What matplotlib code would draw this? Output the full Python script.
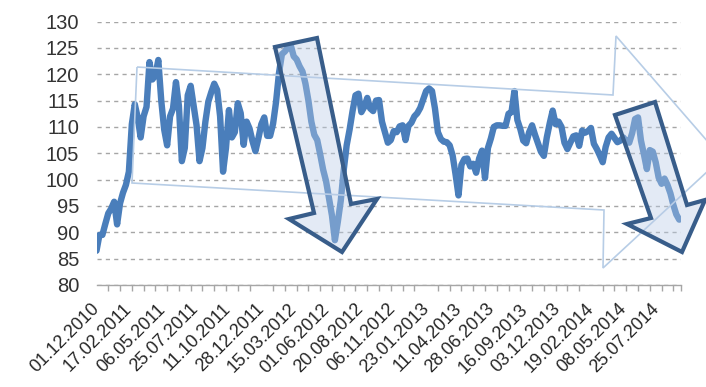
import matplotlib
matplotlib.use("Agg")
import matplotlib.pyplot as plt
from matplotlib.patches import Polygon
import numpy as np

plt.rcParams["font.family"] = ["Liberation Sans", "DejaVu Sans"]

# Weekly closing index values (one value every 5 trading days from 01.12.2010)
week_values = [
    86.5, 89.5, 89.5, 91.6, 93.6, 94.5, 95.8, 91.5, 95.5, 97.5,
    99.0, 101.5, 110.5, 114.3, 111.8, 108.0, 112.0, 113.8, 122.3, 119.0,
    119.8, 122.7, 115.0, 109.5, 106.5, 112.0, 113.5, 118.5, 114.0, 103.5,
    106.0, 116.0, 117.8, 114.0, 110.3, 103.5, 106.0, 111.0, 114.8, 116.6,
    118.2, 117.0, 112.0, 101.5, 106.0, 113.2, 108.0, 109.0, 114.5, 112.6,
    106.6, 111.0, 109.7, 107.3, 105.4, 107.8, 110.5, 111.8, 108.3, 108.3,
    110.6, 114.7, 120.2, 123.8, 124.3, 125.0, 125.5, 123.4, 122.8, 121.5,
    120.5, 118.2, 115.0, 111.0, 108.5, 107.5, 104.8, 101.9, 99.7, 96.5,
    93.2, 88.5, 92.0, 96.0, 101.8, 106.5, 109.5, 113.0, 116.0, 116.3,
    112.8, 113.8, 115.5, 113.5, 113.0, 115.0, 115.1, 111.0, 109.0, 107.0,
    107.5, 109.2, 109.0, 110.1, 110.3, 107.5, 110.2, 110.8, 112.0, 112.6,
    113.6, 115.2, 116.8, 117.3, 116.8, 113.5, 109.0, 107.7, 107.2, 107.1,
    106.5, 104.6, 101.0, 97.0, 102.8, 103.9, 104.0, 102.5, 103.0, 101.3,
    104.0, 105.5, 100.3, 106.0, 107.8, 110.0, 110.3, 110.3, 110.2, 110.2,
    112.5, 112.8, 116.8, 111.3, 109.6, 107.4, 106.9, 109.0, 110.3, 108.5,
    106.9, 105.3, 104.5, 108.0, 110.7, 113.1, 110.5, 111.0, 110.0, 107.0,
    105.8, 107.0, 108.2, 108.4, 106.4, 109.3, 108.9, 109.2, 109.8, 106.8,
    105.8, 104.6, 103.3, 106.2, 108.0, 108.7, 107.9, 107.1, 107.4, 108.0,
    107.3, 107.0, 108.8, 111.5, 111.8, 107.4, 104.8, 102.0, 105.6, 105.3,
    103.3, 100.4, 99.2, 100.2, 99.0, 97.4, 95.2, 93.4, 92.4,
]
days_per_step = 5          # trading days between stored values
n_days = 993               # trading days covered by the category axis

date_labels = [
    "01.12.2010", "17.02.2011", "06.05.2011", "25.07.2011", "11.10.2011",
    "28.12.2011", "15.03.2012", "01.06.2012", "20.08.2012", "06.11.2012",
    "23.01.2013", "11.04.2013", "28.06.2013", "16.09.2013", "03.12.2013",
    "19.02.2014", "08.05.2014", "25.07.2014",
]
label_step = 56            # trading days between date labels
tick_step = 20             # trading days between tick marks
y_ticks = list(range(80, 131, 5))

W, H = 706, 387
fig = plt.figure(figsize=(W / 100, H / 100), dpi=100)
ax = fig.add_axes([96.5 / W, 1 - 285 / H, (681 - 96.5) / W, (285 - 21.5) / H])

x = np.arange(len(week_values)) * days_per_step
ax.plot(x, week_values, color="#4a7ebb", lw=4.6, solid_joinstyle="round",
        solid_capstyle="round", zorder=3)

ax.set_xlim(0, n_days)
ax.set_ylim(80, 130)

# y axis: labels only, dashed horizontal grid
ax.set_yticks(y_ticks)
ax.set_yticklabels([str(v) for v in y_ticks])
ax.tick_params(axis="y", length=0, pad=12.5, labelsize=14.5, labelcolor="#333333")
ax.yaxis.grid(True, color="#a6a6a6", lw=1.0, linestyle=(0, (3, 3)))
ax.set_axisbelow(True)

for s in ("left", "right", "top"):
    ax.spines[s].set_visible(False)
ax.spines["bottom"].set_color("#a6a6a6")
ax.spines["bottom"].set_linewidth(1.0)
ax.spines["bottom"].set_zorder(5)

# x axis: tick marks every 20 trading days, date labels every 56
label_pos = [i * label_step for i in range(len(date_labels))]
ax.set_xticks(label_pos, date_labels, rotation=45, ha="right", va="center",
              rotation_mode="anchor")
ax.tick_params(axis="x", which="major", length=0, pad=15.5, labelsize=13,
               labelcolor="#262626")
minor = list(range(0, n_days, tick_step)) + [n_days]
ax.set_xticks(minor, minor=True)
ax.tick_params(axis="x", which="minor", length=4.0, width=1.0, color="#a6a6a6")


def px(points):
    """Convert pixel positions (origin top-left) to figure fractions."""
    return [(px_x / W, 1 - px_y / H) for px_x, px_y in points]


# wide outlined arrow marking the sideways channel
channel = px([(137, 67), (613, 95), (616, 36), (722, 158), (603, 268),
              (604, 210), (132, 183)])
ax.add_patch(Polygon(channel, closed=True, fill=False, edgecolor="#b7cde6",
                     lw=1.2, transform=fig.transFigure, clip_on=False, zorder=4))

# dark arrows marking the two sharp declines
drop1 = px([(275, 47), (317, 38), (351, 204), (377, 199), (342, 252),
            (289, 219), (314, 213)])
drop2 = px([(615, 115), (655, 102), (687, 205), (705, 200), (682, 252),
            (627, 224), (651, 218)])
for pts in (drop1, drop2):
    ax.add_patch(Polygon(pts, closed=True, facecolor=(0.73, 0.80, 0.90, 0.4),
                         edgecolor="#385d8a", lw=3.0, joinstyle="miter",
                         transform=fig.transFigure, clip_on=False, zorder=6))

fig.savefig("out.png", dpi=100)
